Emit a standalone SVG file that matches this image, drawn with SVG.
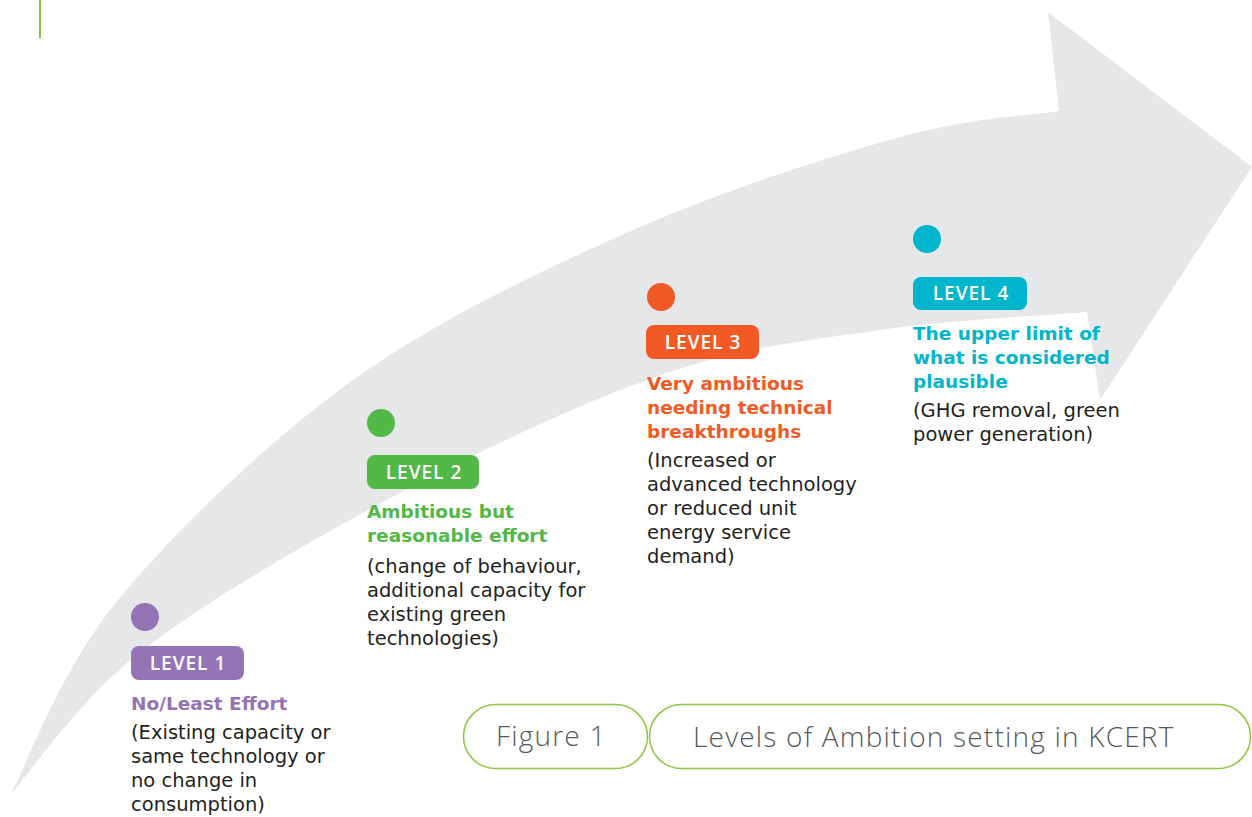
<svg xmlns="http://www.w3.org/2000/svg" width="1252" height="817" viewBox="0 0 1252 817">
<style>
  .desc { font-family: "DejaVu Sans", "Open Sans", sans-serif; font-size: 19.5px; fill: #231f20; }
  .title { font-family: "DejaVu Sans", "Open Sans", sans-serif; font-size: 18.5px; font-weight: 700; }
  .lvl { font-family: "Open Sans", "Liberation Sans", sans-serif; font-size: 19px; font-weight: 600; letter-spacing: 1px; fill: #ffffff; text-anchor: middle; }
  .cap { font-family: "Open Sans", "Liberation Sans", sans-serif; font-size: 28px; font-weight: 300; letter-spacing: 1.2px; fill: #58595b; }
  .pill { fill: #ffffff; stroke: #8dc63f; stroke-width: 1.5; }
</style>
<rect width="1252" height="817" fill="#ffffff"/>
<line x1="40" y1="0" x2="40" y2="38" stroke="#7dc242" stroke-width="2"/>
<path id="arrow" fill="#e6e7e8" d="M10,795 C28,762.5 60.8,669.2 118,600 C175.2,530.8 267.2,441.7 353,380 C438.8,318.3 541.8,270.5 633,230 C724.2,189.5 829,156.8 900,137 C971,117.2 1032.5,115.3 1059,111 L1048,12 L1252,167 L1100,400 L1087,312 C1052.5,315 950,319.8 880,330 C810,340.2 747,345.8 667,373 C587,400.2 487.3,446.8 400,493 C312.7,539.2 208,599.7 143,650 C78,700.3 32.2,770.8 10,795 Z"/>

<g id="level1">
  <circle cx="145" cy="617" r="14" fill="#9474b4"/>
  <rect x="131" y="646" width="113" height="34" rx="8" fill="#9474b4"/>
  <text class="lvl" x="188" y="670">LEVEL 1</text>
  <text class="title" x="131" y="710" fill="#9474b4">No/Least Effort</text>
  <text class="desc" x="131" y="739">(Existing capacity or</text>
  <text class="desc" x="131" y="763">same technology or</text>
  <text class="desc" x="131" y="787">no change in</text>
  <text class="desc" x="131" y="811">consumption)</text>
</g>

<g id="level2">
  <circle cx="381" cy="423" r="14" fill="#52b848"/>
  <rect x="367" y="455" width="112" height="34" rx="8" fill="#52b848"/>
  <text class="lvl" x="424" y="479">LEVEL 2</text>
  <text class="title" x="367" y="518" fill="#52b848">Ambitious but</text>
  <text class="title" x="367" y="542" fill="#52b848">reasonable effort</text>
  <text class="desc" x="367" y="573">(change of behaviour,</text>
  <text class="desc" x="367" y="597">additional capacity for</text>
  <text class="desc" x="367" y="621">existing green</text>
  <text class="desc" x="367" y="645">technologies)</text>
</g>

<g id="level3">
  <circle cx="661" cy="297" r="14" fill="#f15a24"/>
  <rect x="646" y="325" width="113" height="34" rx="8" fill="#f15a24"/>
  <text class="lvl" x="703" y="349">LEVEL 3</text>
  <text class="title" x="647" y="390" fill="#f15a24">Very ambitious</text>
  <text class="title" x="647" y="414" fill="#f15a24">needing technical</text>
  <text class="title" x="647" y="438" fill="#f15a24">breakthroughs</text>
  <text class="desc" x="647" y="467">(Increased or</text>
  <text class="desc" x="647" y="491">advanced technology</text>
  <text class="desc" x="647" y="515">or reduced unit</text>
  <text class="desc" x="647" y="539">energy service</text>
  <text class="desc" x="647" y="563">demand)</text>
</g>

<g id="level4">
  <circle cx="927" cy="239" r="14" fill="#00b5cc"/>
  <rect x="913" y="277" width="114" height="33" rx="8" fill="#00b5cc"/>
  <text class="lvl" x="971" y="300">LEVEL 4</text>
  <text class="title" x="913" y="340" fill="#00b5cc">The upper limit of</text>
  <text class="title" x="913" y="364" fill="#00b5cc">what is considered</text>
  <text class="title" x="913" y="388" fill="#00b5cc">plausible</text>
  <text class="desc" x="913" y="417">(GHG removal, green</text>
  <text class="desc" x="913" y="441">power generation)</text>
</g>

<g id="caption">
  <rect class="pill" x="463.5" y="704.5" width="184" height="64" rx="32"/>
  <text class="cap" x="496" y="746">Figure 1</text>
  <rect class="pill" x="649.5" y="704.5" width="601" height="64" rx="32"/>
  <text class="cap" x="693" y="747">Levels of Ambition setting in KCERT</text>
</g>
</svg>
